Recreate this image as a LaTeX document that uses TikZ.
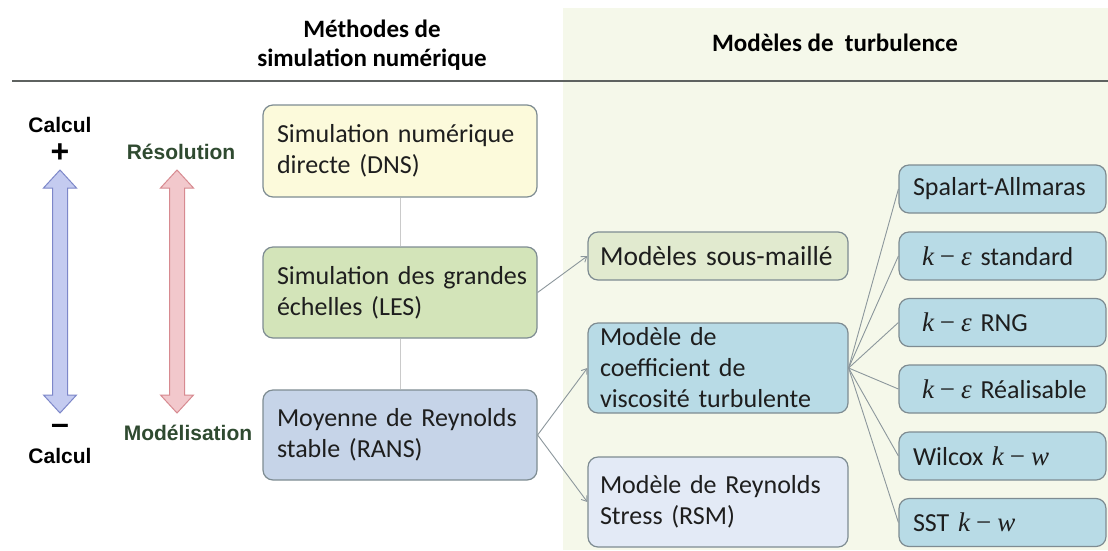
\documentclass[tikz,border=0pt]{standalone}
\usepackage{fontspec}
\setmainfont{Carlito}
\newfontfamily\arialf{Liberation Sans}
\newfontfamily\serifm{Liberation Serif}
\newcommand{\mk}[1]{{\serifm\itshape #1}}
\newcommand{\kminus}[1]{{\fontsize{27}{31}\selectfont\mk{k}\hspace{6pt}{\serifm −}\hspace{6pt}\mk{#1}}}
\usetikzlibrary{arrows.meta}
\definecolor{panel}{HTML}{F5F8EA}
\definecolor{hline}{HTML}{5E6260}
\definecolor{bordr}{HTML}{7E8C92}
\definecolor{dnsfill}{HTML}{FCFADB}
\definecolor{lesfill}{HTML}{D3E4B9}
\definecolor{ransfill}{HTML}{C6D4E8}
\definecolor{sousfill}{HTML}{E1EACF}
\definecolor{coeffill}{HTML}{B8DBE6}
\definecolor{rsmfill}{HTML}{E3EAF6}
\definecolor{conn}{HTML}{8C979C}
\definecolor{vline}{HTML}{CACACA}
\definecolor{bluefill}{HTML}{C4CBF0}
\definecolor{blueedge}{HTML}{7D87C9}
\definecolor{redfill}{HTML}{F2C8CC}
\definecolor{rededge}{HTML}{D78A90}
\definecolor{dgreen}{HTML}{2F4A30}
\definecolor{txt}{HTML}{1E1E1E}
\tikzset{
  box/.style={draw=bordr, line width=1.2pt, rounded corners=10pt, inner xsep=15pt, inner ysep=0pt, align=left, text=txt, font=\fontsize{26}{31}\selectfont},
  bigbox/.style={box, minimum width=274pt, text width=256pt, inner xsep=9pt},
  midbox/.style={box, minimum width=260pt, text width=240pt, inner xsep=10pt},
  rbox/.style={box, minimum width=207pt, text width=185pt, minimum height=48pt, inner xsep=11pt, fill=coeffill},
  head/.style={font=\fontsize{25}{29}\selectfont\bfseries, text=black, align=center},
  side/.style={font=\arialf\bfseries\fontsize{21}{24}\selectfont},
  sign/.style={font=\arialf\bfseries\fontsize{32}{32}\selectfont, inner sep=0pt},
  conarrow/.style={draw=conn, line width=0.9pt, -{Straight Barb[length=5pt,width=7pt]}},
  conline/.style={draw=conn, line width=0.9pt},
}
\begin{document}
\begin{tikzpicture}[x=1pt,y=-1pt]
\useasboundingbox (0,0) rectangle (1108,550);
\fill[white] (0,0) rectangle (1108,550);
\fill[panel] (563,8) rectangle (1108,550);
\draw[hline, line width=2pt] (12,81) -- (1108,81);

\node[head] (h1) at (372,45) {Méthodes de\\simulation numérique};
\node[head] (h2) at (835,43) {Modèles de\ \ turbulence};

% left side labels
\node[side] (c1) at (60,125) {Calcul};
\node[sign] (plus) at (60,153) {+};
\node[sign] (minus) at (60,429) {–};
\node[side] (c2) at (60,456) {Calcul};
\node[side, text=dgreen] (res) at (181,152) {Résolution};
\node[side, text=dgreen] (mod) at (188,433) {Modélisation};

% double block arrows
\draw[fill=bluefill, draw=blueedge, line width=1pt]
  (60,170) -- (76.5,188) -- (67.5,188) -- (67.5,395) -- (76.5,395) -- (60,413)
  -- (43.5,395) -- (52.5,395) -- (52.5,188) -- (43.5,188) -- cycle;
\draw[fill=redfill, draw=rededge, line width=1pt]
  (177,170) -- (193.5,188) -- (184.5,188) -- (184.5,395) -- (193.5,395) -- (177,413)
  -- (160.5,395) -- (169.5,395) -- (169.5,188) -- (160.5,188) -- cycle;

% left column
\node[bigbox, fill=dnsfill, minimum height=92pt] (dns) at (400,151) {\hspace*{5pt}Simulation numérique\\\hspace*{5pt}directe (DNS)};
\node[bigbox, fill=lesfill, minimum height=91pt] (les) at (400,292.5) {\hspace*{5pt}Simulation des grandes\\\hspace*{5pt}échelles (LES)};
\node[bigbox, fill=ransfill, minimum height=90pt] (rans) at (400,435) {\hspace*{5pt}Moyenne de Reynolds\\\hspace*{5pt}stable (RANS)};
\draw[vline, line width=1pt] (dns.south) -- (les.north);
\draw[vline, line width=1pt] (les.south) -- (rans.north);

% middle column
\node[midbox, fill=sousfill, minimum height=48pt, font=\fontsize{27.5}{31}\selectfont] (sous) at (718,256) {\hspace*{2pt}Modèles sous-maillé};
\node[midbox, fill=coeffill, minimum height=90pt] (coef) at (718,368) {\hspace*{2pt}Modèle de\\\hspace*{2pt}coefficient de\\\hspace*{2pt}viscosité turbulente};
\node[midbox, fill=rsmfill, minimum height=90pt] (rsm) at (718,502) {\hspace*{2pt}Modèle de Reynolds\\\hspace*{2pt}Stress (RSM)};

% right column
\node[rbox] (r1) at (1002.5,189) {\hspace*{3pt}Spalart-Allmaras};
\node[rbox] (r2) at (1002.5,256) {\hspace*{12pt}\kminus{ε} standard};
\node[rbox] (r3) at (1002.5,322.5) {\hspace*{12pt}\kminus{ε} RNG};
\node[rbox] (r4) at (1002.5,389) {\hspace*{12pt}\kminus{ε} Réalisable};
\node[rbox] (r5) at (1002.5,456) {\hspace*{3pt}Wilcox \kminus{w}};
\node[rbox] (r6) at (1002.5,522.5) {\hspace*{3pt}SST \kminus{w}};

% connectors
\draw[conarrow] (les.east) -- (sous.west);
\draw[conarrow] (rans.east) -- (coef.west);
\draw[conarrow] (rans.east) -- (rsm.west);
\foreach \r in {r1,r2,r3,r4,r5,r6}
  \draw[conline] (coef.east) -- (\r.west);
\end{tikzpicture}
\end{document}
